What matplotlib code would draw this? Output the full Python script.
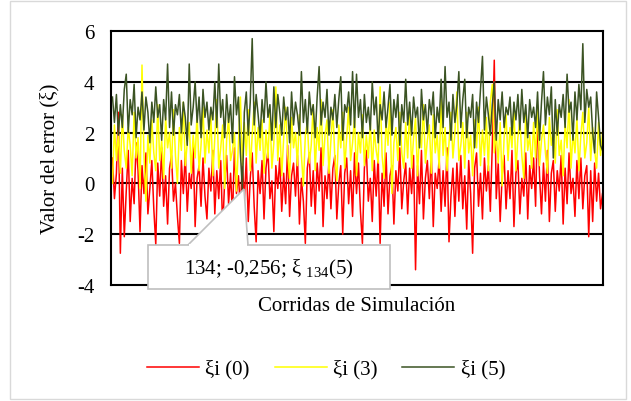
import matplotlib.pyplot as plt
from matplotlib.patches import Polygon, Rectangle
import numpy as np

# corridas de simulación (cada 2 corridas)
corrida = np.arange(2, 501, 2)

xi0 = [1.0, -0.6, 0.4, 2.8, -2.75, 0.6, -2.1, -0.3, 1.3, -1.5, 0.2, -0.8, 1.6, 0.5, -1.9, 0.7, -0.4, 1.2, -1.2, -0.2, 0.9, -1.0, -2.4, 0.8, -0.5,
       1.4, -0.9, 0.3, -1.6, 0.6, 1.1, -0.7, 0.0, -1.3, -2.36, 0.9, -0.4, 1.2, -1.1, 0.4, -0.2, 1.5, -1.7, 0.2, 0.7, -0.9, 1.0, -0.5, -1.4, 0.6,
       -0.3, 1.3, -1.2, 0.5, -0.6, 0.9, -1.8, 0.1, 1.1, -0.8, 0.4, -1.3, 1.4, -0.4, 0.3, -1.0, 0.8, -0.7, 1.0, -1.5, 0.2, 1.2, -0.9, -2.3, 0.5,
       -0.4, 0.9, -1.4, 0.6, 1.3, -0.6, 0.1, -1.9, 0.7, -0.2, 1.0, -1.1, 0.4, -0.8, 1.5, -1.3, 0.3, 0.8, -0.5, 1.1, -1.6, 0.2, -0.7, -2.36, 0.6,
       1.2, -0.9, 0.5, -1.2, 0.8, -0.3, 1.4, -1.7, 0.3, -0.6, 0.9, -1.0, 0.6, 1.1, -1.4, 0.0, 0.7, -2.0, 0.4, 1.0, -0.8, 0.5, -1.3, 1.2, -0.4,
       0.8, -1.1, -2.36, 0.6, 1.3, -0.7, 0.2, -1.5, 0.9, -0.5, 1.1, -2.36, 0.4, -0.9, 1.2, -1.2, 0.3, 0.7, -1.6, 0.5, -0.3, 1.4, -1.0, 0.1, 0.8,
       -1.2, 0.6, -0.4, 1.1, -3.4, 0.7, -0.8, 1.3, -1.4, 0.2, 0.9, -0.6, 1.2, -1.7, 0.4, -0.2, 1.0, -1.1, 0.5, -0.9, 1.4, -2.3, -0.5, 0.6, -1.3,
       0.8, -0.7, 1.1, -1.0, 0.3, -1.8, 0.9, -0.4, -2.75, 0.6, 1.2, -0.9, 0.4, -1.4, 1.0, -0.3, 0.7, -1.1, 1.5, 4.85, -0.6, 0.8, -1.5, 0.3, 1.1,
       -1.0, 0.5, -0.6, 1.3, -1.7, 0.4, 0.9, -1.2, 0.2, -0.5, 1.2, -1.4, 0.7, -0.2, 1.0, -0.9, 2.8, 0.3, -1.2, 0.8, -0.7, 1.3, -1.5, 0.4, 0.9,
       -1.1, 0.5, -0.3, 1.1, -1.6, 0.6, -0.8, 1.2, -0.4, 0.2, -1.3, 0.9, -0.6, 1.0, -1.0, 0.3, 0.7, -2.1, 0.5, -1.5, 0.8, -0.7, 0.4, -1.0, -0.4]

xi3 = [0.0, 2.3, 0.9, 2.0, 0.4, 2.7, 1.3, 0.6, 2.2, 1.5, 0.3, 2.8, 1.0, 1.8, -0.2, 4.66, 1.1, -0.7, 1.9, 0.8, 2.5, 1.2, 0.5, 3.1, 0.9,
       1.7, 0.2, 2.6, 1.4, 2.0, 0.6, 2.9, 1.1, 0.0, 2.2, 1.3, 3.2, 0.7, 1.6, 2.4, 0.4, 1.9, 1.0, 2.8, 0.5, 1.5, 3.0, 0.8, 2.1, 1.2,
       2.7, 0.3, 1.8, 3.3, 0.6, 1.4, 2.3, -0.2, 1.7, 2.6, 0.9, 1.3, 2.0, -0.3, 1.5, 3.4, 0.7, 2.4, 1.1, 2.9, 0.5, 1.9, 3.2, 0.8, 2.2,
       1.3, 2.5, 0.4, 2.1, 1.0, 2.8, 0.6, 1.6, 3.8, 0.9, 2.3, 0.3, 1.8, 3.0, 1.2, 0.2, 2.6, 1.4, 2.0, 0.7, 2.7, 1.1, -0.1, 1.9, 2.4,
       0.8, 1.5, 3.1, 0.5, 2.2, 1.3, 3.3, 0.7, 1.9, 2.5, 0.4, 1.7, 2.9, 1.0, 0.1, 2.3, 1.4, 2.8, 0.6, 1.8, 3.0, 0.9, 1.6, 2.6, 0.3,
       2.0, 1.2, 2.7, 0.7, 1.9, 1.0, 2.4, 0.5, 2.1, 1.3, 0.8, 3.8, 1.1, 0.2, 2.5, 1.5, 3.2, -0.4, 1.6, 2.2, 0.9, 2.8, 1.2, 0.6, 2.4,
       1.0, 3.0, 0.6, 1.8, 2.6, 0.3, 2.0, 1.4, 3.1, 0.8, 1.7, 2.3, 0.4, 2.7, 1.2, 1.9, 0.6, 3.3, 1.1, 2.2, 0.5, 1.6, 2.8, 1.0, 2.0,
       3.6, 0.9, 1.5, 2.4, 0.6, 2.8, 1.2, 1.9, 0.3, 2.5, 1.4, 3.0, 0.7, 2.1, 1.1, 2.6, 0.5, 3.2, 3.9, 1.2, 2.0, 0.8, 2.4, -0.1, 1.8,
       2.7, 0.9, 2.2, 1.4, 3.0, 0.5, 1.8, 2.5, 1.1, 0.2, 2.8, 1.3, 1.9, 0.6, 2.4, 1.0, 3.1, 0.7, 1.7, 2.3, 1.2, 0.4, 2.6, 1.5, 2.0,
       0.8, 2.9, 1.1, 1.7, 0.3, 2.4, 1.4, 3.3, 0.6, 2.0, 1.2, 2.6, 0.5, 1.9, 2.8, 1.0, 1.6, 3.0, 0.9, 2.2, 1.3, 0.6, 2.4, 1.1, 2.0]

xi5 = [3.4, 2.4, 3.5, 1.9, 3.1, 2.2, 3.7, 4.3, 2.0, 3.3, 2.7, 3.9, 1.8, 3.0, 2.5, 3.6, 2.1, 3.4, 2.8, 1.6, 3.2, 2.4, 3.8, 2.6, 3.1,
       1.7, 3.3, 2.5, 4.7, 2.2, 3.6, 1.9, 3.1, 2.7, 3.5, 2.0, 3.2, 2.6, 1.5, 4.7, 2.3, 3.0, 4.0, 2.4, 3.4, 1.8, 3.7, 2.6, 3.2, 2.1,
       3.0, 2.5, 4.0, 2.2, 4.7, 2.6, 3.3, 1.8, 3.5, 2.4, 3.1, 1.6, 4.2, 2.7, 3.4, 1.2, -0.256, 2.8, 3.6, 1.9, 3.2, 5.7, 2.3, 3.5, 2.7,
       1.8, 3.3, 2.4, 4.0, 2.6, 3.1, 1.7, 3.8, 2.2, 3.5, 2.8, 1.9, 3.4, 2.5, 3.0, 1.6, 3.6, 2.3, 3.2, 2.7, 1.9, 4.4, 2.4, 3.3, 2.0,
       3.6, 2.7, 3.1, 1.8, 3.4, 4.6, 2.3, 3.2, 2.6, 3.7, 1.9, 3.0, 2.5, 3.5, 2.2, 3.3, 4.2, 1.7, 3.1, 2.8, 3.6, 2.3, 4.4, 2.2, 4.3,
       2.6, 3.3, 1.8, 3.5, 2.4, 3.0, 2.1, 4.0, 2.7, 3.4, 1.6, 3.1, 2.5, 3.6, 2.2, 3.0, 3.9, 1.9, 3.3, 2.6, 3.5, 1.5, 3.1, 2.4, 4.1,
       2.3, 3.2, 1.9, 3.4, 2.6, 3.0, 1.4, 3.7, 2.5, 3.1, 2.0, 3.3, 2.7, 3.6, 1.8, 3.0, 2.4, 4.1, 2.2, 4.6, 2.6, 3.2, 1.7, 3.5, 2.4,
       3.1, 4.4, 2.2, 3.3, 4.1, 1.8, 3.0, 2.6, 3.5, 1.4, 3.2, 2.4, 3.7, 5.0, 2.1, 3.4, 2.7, 1.9, 3.1, 4.0, 1.7, 3.3, 2.5, 3.6, 2.2,
       3.0, 2.7, 3.4, 1.9, 3.2, 2.5, 3.5, 2.1, 3.7, 2.4, 3.1, 1.8, 3.3, 2.6, 3.0, 2.2, 3.6, 1.7, 3.2, 4.4, 2.3, 3.4, 2.7, 3.8, 1.0,
       3.3, 1.9, 3.1, 2.6, 3.5, 2.2, 4.3, 2.8, 3.2, 1.7, 3.6, 2.5, 3.9, 2.9, 5.5, 2.4, 3.7, 3.0, 3.4, 2.0, 1.2, 3.6, 2.6, 1.5, 1.3]

series_names = ["ξi (0)", "ξi (3)", "ξi (5)"]
colores = ["#FF0000", "#FFFF00", "#3B5323"]
yticks = [-4, -2, 0, 2, 4, 6]

plt.rcParams['font.family'] = ['Liberation Serif', 'DejaVu Serif']
plt.rcParams['mathtext.default'] = 'regular'
plt.rcParams['axes.unicode_minus'] = False

fig = plt.figure(figsize=(6.31, 4.02), dpi=100)
ax = fig.add_axes([111/631, 1 - 286/402, 492/631, 254/402])

for datos, nombre, c in zip([xi0, xi3, xi5], series_names, colores):
    ax.plot(corrida, datos, color=c, linewidth=1.1, label=nombre)

ax.set_xlim(0.5, 500.5)
ax.set_ylim(-4, 6)
ax.set_yticks(yticks)
ax.set_xticks([])
ax.tick_params(axis='y', length=0, pad=12, labelsize=15)
for y in [-2, 0, 2, 4]:
    ax.axhline(y, color='black', linewidth=1.5, zorder=0.5)
for s in ax.spines.values():
    s.set_linewidth(1.5)
    s.set_color('black')

ax.set_ylabel("Valor del error (ξ)", fontsize=15)
ax.yaxis.set_label_coords(-0.124, 0.5)
ax.set_xlabel("Corridas de Simulación", fontsize=15)
ax.xaxis.set_label_coords(0.5, -0.079)
ax.xaxis.label.set_va('center')
ax.yaxis.label.set_va('center')

# etiqueta de datos (callout)
ax.add_patch(Polygon([(188/631, 1-246/402), (244/631, 1-190/402), (248/631, 1-246/402)],
                     closed=True, transform=fig.transFigure, facecolor='white',
                     edgecolor='#BFBFBF', linewidth=1.2, zorder=5, clip_on=False))
ax.add_patch(Rectangle((148/631, 1-290/402), 242/631, 44/402, transform=fig.transFigure,
                       facecolor='white', edgecolor='#BFBFBF', linewidth=1.2, zorder=6, clip_on=False))
ax.add_patch(Rectangle((189/631, 1-247.5/402), 58/631, 3/402, transform=fig.transFigure,
                       facecolor='white', edgecolor='none', zorder=7, clip_on=False))
fig.text(269/631, 1-269/402, "134; -0,256; ξ $_{134}$(5)", fontsize=15,
         ha='center', va='center', zorder=8)

fig.legend(loc='center', bbox_to_anchor=(326/631, 1-370/402), ncol=3, frameon=False,
           fontsize=15, handlelength=2.5, handletextpad=0.3, columnspacing=1.2)

# borde del área del gráfico
fig.add_artist(Rectangle((10/631, 2/402), 616/631, 398/402, transform=fig.transFigure,
                         facecolor='none', edgecolor='#D9D9D9', linewidth=1.0))

plt.savefig("out.png", dpi=100)
